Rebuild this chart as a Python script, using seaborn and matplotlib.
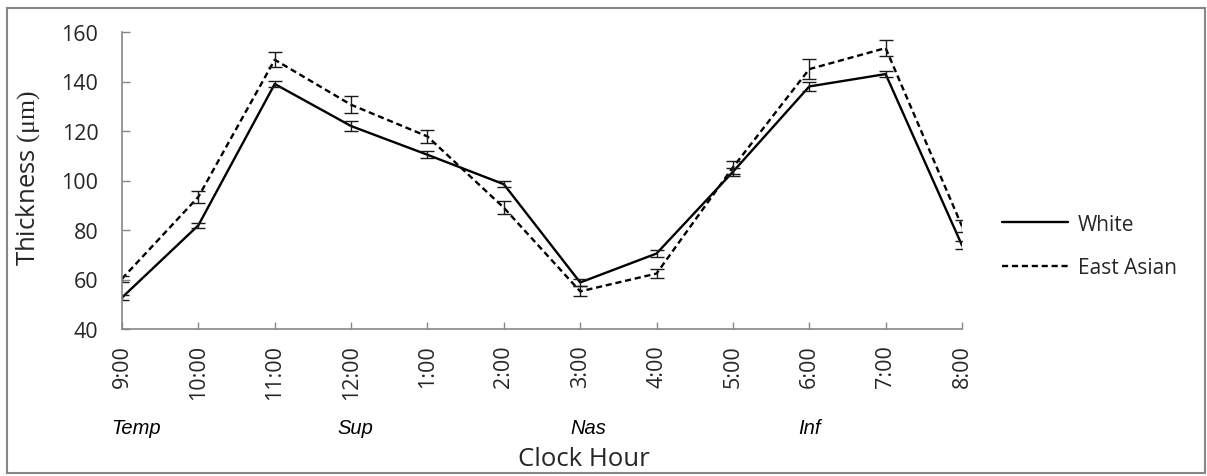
import matplotlib
matplotlib.use("Agg")
import matplotlib.pyplot as plt
import matplotlib.patches as patches
import seaborn as sns
import pandas as pd
import numpy as np

# Clock-hour positions around the disc
clock_hours = ["9:00", "10:00", "11:00", "12:00", "1:00", "2:00",
               "3:00", "4:00", "5:00", "6:00", "7:00", "8:00"]

# Mean thickness (µm) and standard errors per group
white_mean = [52.7, 81.9, 139.0, 122.0, 110.4, 98.5, 58.8, 70.5, 103.5, 138.0, 143.0, 73.8]
white_err = [1.1, 1.1, 1.2, 2.0, 1.4, 1.3, 1.5, 1.3, 1.6, 1.8, 1.3, 1.6]
asian_mean = [60.3, 93.4, 148.8, 130.6, 117.8, 89.0, 55.2, 62.4, 105.3, 145.0, 153.5, 81.5]
asian_err = [1.3, 2.3, 3.0, 3.4, 2.6, 2.7, 2.0, 1.8, 2.5, 3.9, 3.2, 2.5]

groups = ["White", "East Asian"]

# Quadrant labels under the hour ticks
quadrants = ["Temp", "Sup", "Nas", "Inf"]
quadrant_pos = [0.18, 3.05, 6.1, 9.0]

sns.set_theme(style="white")
plt.rcParams["font.family"] = ["Open Sans", "DejaVu Sans"]
plt.rcParams["mathtext.fontset"] = "custom"
plt.rcParams["mathtext.rm"] = "Liberation Serif"

text_col = "#262626"
axis_col = "#868686"

df = pd.DataFrame({
    "pos": list(range(len(clock_hours))) * 2,
    "thickness": white_mean + asian_mean,
    "group": [groups[0]] * len(clock_hours) + [groups[1]] * len(clock_hours),
})

fig = plt.figure(figsize=(12.07, 4.77), dpi=100)
ax = fig.add_axes([122 / 1207, 1 - 330 / 477, (962 - 122) / 1207, (330 - 33) / 477])

sns.lineplot(data=df, x="pos", y="thickness", style="group", style_order=groups,
             dashes={"White": "", "East Asian": (2.6, 1.6)},
             color="black", linewidth=1.7, ax=ax, legend=False)

x = np.arange(len(clock_hours))
for mean, err in [(white_mean, white_err), (asian_mean, asian_err)]:
    ax.errorbar(x, mean, yerr=err, fmt="none", ecolor="#1a1a1a",
                elinewidth=1.0, capsize=4.8, capthick=1.0)

ax.set_xlim(0, len(clock_hours) - 1)
ax.set_ylim(40, 160)
ax.set_yticks(range(40, 161, 20))
ax.set_xticks(x)
ax.set_xticklabels(clock_hours, rotation=90)

for side in ["top", "right"]:
    ax.spines[side].set_visible(False)
for side in ["left", "bottom"]:
    ax.spines[side].set_color(axis_col)
    ax.spines[side].set_linewidth(1.2)

ax.tick_params(axis="y", direction="in", length=6, width=1.0, color=axis_col,
               labelsize=15.5, labelcolor=text_col, pad=17, left=True)
ax.tick_params(axis="x", direction="in", length=5, width=1.0, color=axis_col,
               labelsize=15.5, labelcolor=text_col, pad=11, bottom=True)
ax.set_xlabel("")
ax.set_ylabel("")

# Axis titles
fig.text(28 / 1207, 1 - 178 / 477, r"Thickness $(\mathrm{μm})$", rotation=90,
         ha="center", va="center", fontsize=18.5, color=text_col)
fig.text(584 / 1207, 1 - 460 / 477, "Clock Hour", ha="center", va="center",
         fontsize=18.5, color=text_col)

for lab, p in zip(quadrants, quadrant_pos):
    px = ax.transData.transform((p, 40))[0]
    fig.text(px / 1207, 1 - 429 / 477, lab, ha="center", va="center",
             fontsize=14.5, style="italic", family="Liberation Sans", color="black")

# Legend
handles = [plt.Line2D([], [], color="black", lw=1.7),
           plt.Line2D([], [], color="black", lw=1.7, dashes=(2.6, 1.6))]
fig.legend(handles, groups, loc="center left", bbox_to_anchor=(1002 / 1207, 1 - 247 / 477),
           frameon=False, fontsize=15, handlelength=3.15, handletextpad=0.5,
           labelspacing=1.1, borderpad=0, borderaxespad=0, labelcolor=text_col)

# Chart border
fig.patches.append(patches.Rectangle((7 / 1207, 1 - 474 / 477), 1198 / 1207, 465 / 477,
                                     transform=fig.transFigure, fill=False,
                                     edgecolor=axis_col, linewidth=1.5))

fig.savefig("out.png", dpi=100, facecolor="white")
